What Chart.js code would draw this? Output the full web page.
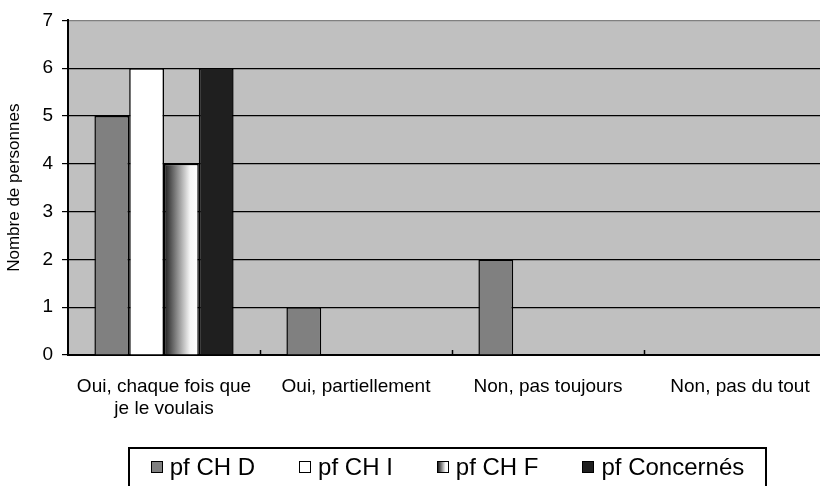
<!DOCTYPE html>
<html>
<head>
<meta charset="utf-8">
<script src="https://cdn.jsdelivr.net/npm/chart.js@4.4.1/dist/chart.umd.min.js"></script>
<style>
    html, body { margin: 0; padding: 0; background: #fff; overflow: hidden; }
    #wrap { position: relative; width: 836px; height: 486px; }
    #legend {
        position: absolute; left: 128px; top: 447px; width: 639px; height: 60px;
        border: 2px solid #000; box-sizing: border-box;
        display: flex; justify-content: center; gap: 44px;
        font-family: "Liberation Sans", Arial, sans-serif; font-size: 24px; color: #000;
        padding-top: 4px;
    }
    #legend .item { display: flex; align-items: center; height: 28px; }
    #legend .box { width: 10px; height: 10px; border: 1.5px solid #000; margin-right: 7px; }
</style>
</head>
<body>
<div id="wrap">
    <canvas id="myChart" width="836" height="486"></canvas>
    <div id="legend"></div>
</div>
<script>
const categories = [['Oui, chaque fois que', 'je le voulais'], 'Oui, partiellement', 'Non, pas toujours', 'Non, pas du tout'];
const seriesNames = ['pf CH D', 'pf CH I', 'pf CH F', 'pf Concernés'];
const pfChD = [5, 1, 2, 0];
const pfChI = [6, 0, 0, 0];
const pfChF = [4, 0, 0, 0];
const pfConcernes = [6, 0, 0, 0];
const yTicks = [0, 1, 2, 3, 4, 5, 6, 7];

const FONT = '"Liberation Sans", Arial, sans-serif';
const CAT_PCT = 0.725;

// bar fill for "pf CH F": dark on the left, white on the right
function gradientFill(context) {
    const chart = context.chart;
    const x = chart.scales.x;
    if (!chart.chartArea || !x) return '#999999';
    const catW = (x.right - x.left) / categories.length;
    const barW = catW * CAT_PCT / 4;
    const center = x.getPixelForValue(context.dataIndex);
    const g = chart.ctx.createLinearGradient(center, 0, center + barW, 0);
    g.addColorStop(0, '#1c1c1c');
    g.addColorStop(0.75, '#f6f6f6');
    g.addColorStop(1, '#ffffff');
    return g;
}

const fills = ['#808080', '#ffffff', gradientFill, '#1f1f1f'];
const legendFills = ['#808080', '#ffffff', 'linear-gradient(to right, #1c1c1c, #f6f6f6 75%, #fff)', '#1f1f1f'];

const plotBg = {
    id: 'plotBg',
    beforeDraw(chart) {
        const a = chart.chartArea, ctx = chart.ctx;
        ctx.save();
        ctx.fillStyle = '#c0c0c0';
        ctx.fillRect(a.left, a.top, a.right - a.left, a.bottom - a.top);
        ctx.restore();
    },
    afterDatasetsDraw(chart) {
        // small inner tick marks between categories
        const x = chart.scales.x, a = chart.chartArea, ctx = chart.ctx;
        const catW = (x.right - x.left) / categories.length;
        ctx.save();
        ctx.strokeStyle = '#000';
        ctx.lineWidth = 1.5;
        for (let i = 1; i < categories.length; i++) {
            const px = Math.round(x.getPixelForValue(i) - catW / 2) + 0.5;
            ctx.beginPath();
            ctx.moveTo(px, a.bottom);
            ctx.lineTo(px, a.bottom - 5);
            ctx.stroke();
        }
        ctx.restore();
    }
};

const allData = [pfChD, pfChI, pfChF, pfConcernes];

let ctx = document.getElementById('myChart').getContext('2d');
let chart = new Chart(ctx, {
    type: 'bar',
    data: {
        labels: categories,
        datasets: allData.map((d, i) => ({
            label: seriesNames[i],
            data: d,
            backgroundColor: fills[i],
            borderColor: '#000000',
            borderWidth: 1.5,
            borderSkipped: 'start',
            categoryPercentage: CAT_PCT,
            barPercentage: 1
        }))
    },
    options: {
        responsive: false,
        animation: false,
        layout: { padding: { top: 11, left: 0, right: 0, bottom: 0 } },
        plugins: {
            legend: { display: false },
            tooltip: { enabled: false }
        },
        scales: {
            x: {
                offset: true,
                grid: { display: false },
                border: { color: '#000', width: 2 },
                ticks: {
                    color: '#000',
                    font: { family: FONT, size: 19 },
                    padding: 12,
                    maxRotation: 0,
                    autoSkip: false
                },
                afterFit(s) { s.height = 131; }
            },
            y: {
                min: 0,
                max: 7,
                afterBuildTicks(s) { s.ticks = yTicks.map(v => ({ value: v })); },
                grid: {
                    color: c => c.tick && c.tick.value === 7 ? '#808080' : '#000000',
                    lineWidth: 1.2,
                    tickColor: '#000',
                    tickLength: 6
                },
                border: { color: '#000', width: 2 },
                ticks: {
                    color: '#000',
                    font: { family: FONT, size: 19 },
                    padding: 9
                },
                title: {
                    display: true,
                    text: 'Nombre de personnes',
                    color: '#000',
                    font: { family: FONT, size: 17 },
                    padding: { top: 4, bottom: 0 }
                },
                afterFit(s) { s.width = 68; }
            }
        }
    },
    plugins: [plotBg]
});

// legend in a box under the chart
const leg = document.getElementById('legend');
seriesNames.forEach((name, i) => {
    const item = document.createElement('div');
    item.className = 'item';
    const b = document.createElement('span');
    b.className = 'box';
    b.style.background = legendFills[i];
    const t = document.createElement('span');
    t.textContent = name;
    item.appendChild(b);
    item.appendChild(t);
    leg.appendChild(item);
});
</script>
</body>
</html>
